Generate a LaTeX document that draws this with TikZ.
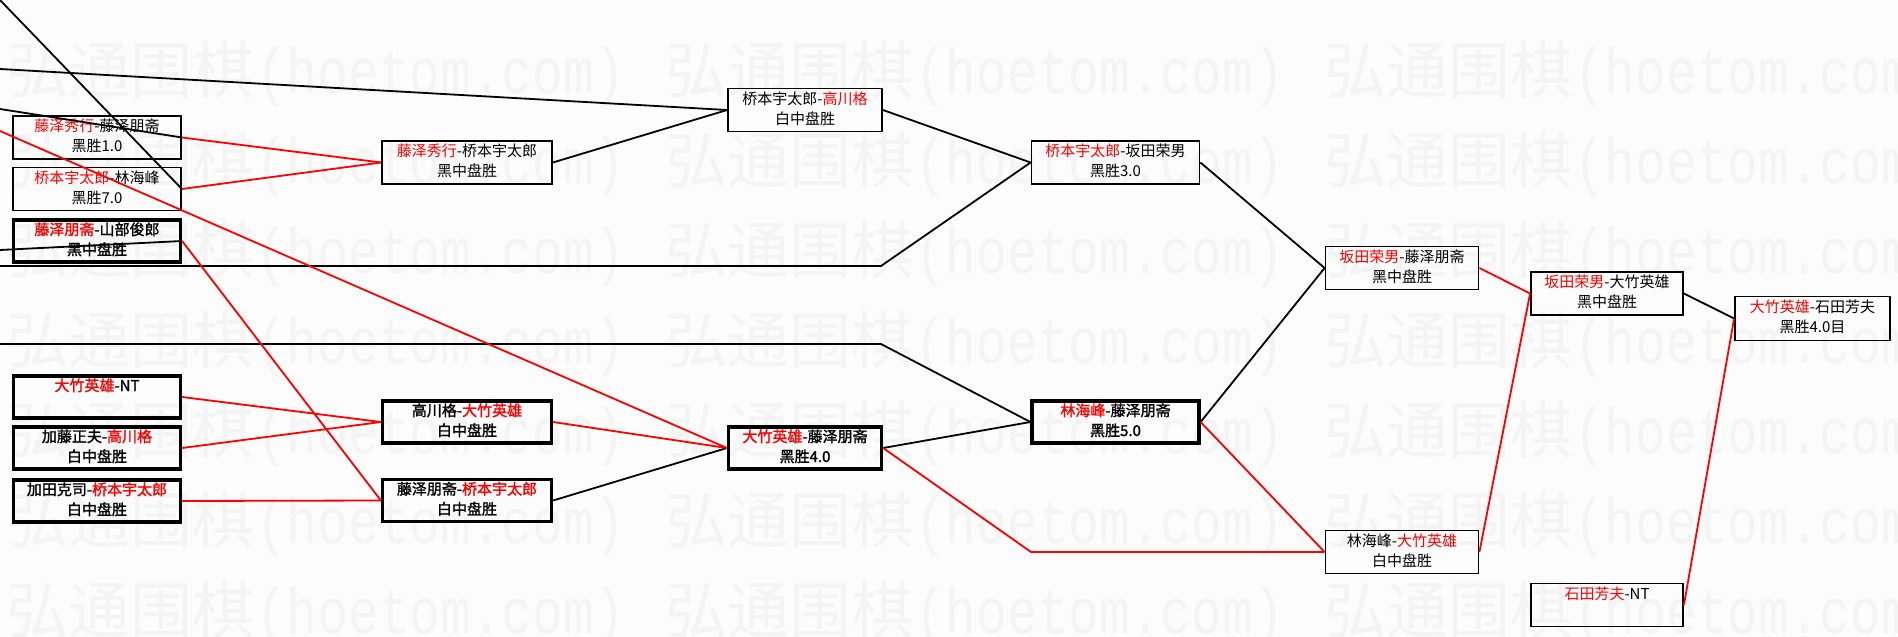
\documentclass[tikz,border=0pt]{standalone}
\usepackage{fontspec}
\usepackage{graphicx}
\newfontfamily\cjk{Noto Sans CJK SC}
\newfontfamily\cjkbold{Noto Sans CJK SC}[FakeBold=1.5]
\newfontfamily\wmmono{Liberation Mono}
\definecolor{wm}{gray}{0.955}
\definecolor{bg}{gray}{0.99}
\definecolor{rd}{rgb}{1,0,0}
\newcommand{\redname}[1]{\textcolor{rd}{#1}}
\tikzset{
  game/.style={draw=black, line width=1.8pt, minimum height=43pt, inner sep=0pt,
    align=center, font=\cjk\fontsize{15}{20}\selectfont},
  gamebold/.style={game, line width=3.2pt, minimum height=42pt,
    font=\cjkbold\fontsize{15}{20}\selectfont},
  link/.style={line width=1.8pt, draw=black},
  rlink/.style={line width=1.8pt, draw=rd},
  wmcjk/.style={anchor=base west, inner sep=0pt, text=wm, font=\cjk\fontsize{62}{62}\selectfont},
  wmlat/.style={anchor=base west, inner sep=0pt, text=wm, font=\wmmono\fontsize{64}{64}\selectfont}
}
\begin{document}
\begin{tikzpicture}[x=1pt,y=-1pt]
\useasboundingbox (0,0) rectangle (1898,637);
\fill[bg] (0,0) rectangle (1898,637);
% watermark
\begin{scope}
\clip (0,0) rectangle (1898,637);
\foreach \k in {0,...,6}{
  \foreach \j in {0,1,2}{
    \node[wmcjk] (wc\k\j) at ({6+659*\j},{93+90*\k}) {弘通围棋};
    \node[wmlat] (wl\k\j) at ({256+659*\j},{93+90*\k}) {\scalebox{0.8}[1]{(hoetom.com)}};
  }
}
\end{scope}
% boxes
\node[game, minimum width=168pt] (A) at (97,137.5) {\strut\redname{藤泽秀行}-藤泽朋斋\\\strut 黑胜1.0};
\node[game, minimum width=168pt] (B) at (97,189) {\strut\redname{桥本宇太郎}-林海峰\\\strut 黑胜7.0};
\node[gamebold, minimum width=167pt] (C) at (97,241) {\strut\redname{藤泽朋斋}-山部俊郎\\\strut 黑中盘胜};
\node[gamebold, minimum width=167pt] (J) at (97,397) {\strut\redname{大竹英雄}-NT\\\strut};
\node[gamebold, minimum width=167pt] (K) at (97,448) {\strut 加藤正夫-\redname{高川格}\\\strut 白中盘胜};
\node[gamebold, minimum width=167pt] (L) at (97,501) {\strut 加田克司-\redname{桥本宇太郎}\\\strut 白中盘胜};
\node[game, minimum width=170pt] (D) at (467,162.5) {\strut\redname{藤泽秀行}-桥本宇太郎\\\strut 黑中盘胜};
\node[gamebold, minimum width=169pt] (M) at (467,422) {\strut 高川格-\redname{大竹英雄}\\\strut 白中盘胜};
\node[gamebold, minimum width=169pt] (N) at (467,500.5) {\strut 藤泽朋斋-\redname{桥本宇太郎}\\\strut 白中盘胜};
\node[game, minimum width=154pt] (E) at (805,110) {\strut 桥本宇太郎-\redname{高川格}\\\strut 白中盘胜};
\node[gamebold, minimum width=153pt] (O) at (805,448) {\strut\redname{大竹英雄}-藤泽朋斋\\\strut 黑胜4.0};
\node[game, minimum width=168pt] (F) at (1115.5,162.5) {\strut\redname{桥本宇太郎}-坂田荣男\\\strut 黑胜3.0};
\node[gamebold, minimum width=167pt] (P) at (1115.5,422) {\strut\redname{林海峰}-藤泽朋斋\\\strut 黑胜5.0};
\node[game, minimum width=153pt] (G) at (1402,268) {\strut\redname{坂田荣男}-藤泽朋斋\\\strut 黑中盘胜};
\node[game, minimum width=153pt] (Q) at (1402,552) {\strut 林海峰-\redname{大竹英雄}\\\strut 白中盘胜};
\node[game, minimum width=152pt] (H) at (1607,293.5) {\strut\redname{坂田荣男}-大竹英雄\\\strut 黑中盘胜};
\node[game, minimum width=152pt] (R) at (1607,605) {\strut\redname{石田芳夫}-NT\\\strut};
\node[game, minimum width=155pt, minimum height=44pt] (I) at (1812.5,318.5) {\strut\redname{大竹英雄}-石田芳夫\\\strut 黑胜4.0目};
% free ends and elbows
\coordinate (s1) at (0,0);
\coordinate (s2) at (0,69);
\coordinate (s3) at (0,109);
\coordinate (s4) at (0,250);
\coordinate (s5) at (0,266);
\coordinate (k5) at (881,266);
\coordinate (s6) at (0,344);
\coordinate (k6) at (881,344);
\coordinate (s7) at (0,131);
\coordinate (k9) at (1031,552);
% black connectors
\draw[link] (s1) -- (B.east);
\draw[link] (s2) -- (E.west);
\draw[link] (s3) -- (A.east);
\draw[link] (s4) -- (C.east);
\draw[link] (s5) -- (k5) -- (F.west);
\draw[link] (s6) -- (k6) -- (P.west);
\draw[link] (D.east) -- (E.west);
\draw[link] (E.east) -- (F.west);
\draw[link] (F.east) -- (G.west);
\draw[link] (P.east) -- (G.west);
\draw[link] (H.east) -- (I.west);
\draw[link] (N.east) -- (O.west);
\draw[link] (O.east) -- (P.west);
% red connectors
\draw[rlink] (A.east) -- (D.west);
\draw[rlink] (B.east) -- (D.west);
\draw[rlink] (s7) -- (O.west);
\draw[rlink] (C.east) -- (N.west);
\draw[rlink] (J.east) -- (M.west);
\draw[rlink] (K.east) -- (M.west);
\draw[rlink] (L.east) -- (N.west);
\draw[rlink] (M.east) -- (O.west);
\draw[rlink] (O.east) -- (k9) -- (Q.west);
\draw[rlink] (P.east) -- (Q.west);
\draw[rlink] (G.east) -- (H.west);
\draw[rlink] (Q.east) -- (H.west);
\draw[rlink] (R.east) -- (I.west);
\end{tikzpicture}
\end{document}
